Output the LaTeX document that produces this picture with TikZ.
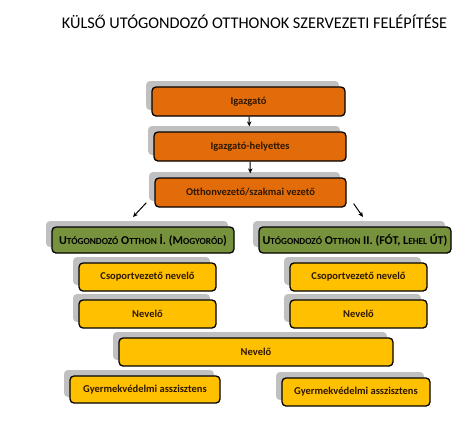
\documentclass[tikz,border=0pt]{standalone}
\usepackage{fontspec}
\setmainfont{Carlito}
\usetikzlibrary{arrows.meta, shadows}
\definecolor{narancs}{HTML}{E36C0A}
\definecolor{olivzold}{HTML}{76923C}
\definecolor{sarga}{HTML}{FFC000}
\definecolor{arnyek}{HTML}{C0C0C0}
\definecolor{sotetbarna}{HTML}{2E1800}
\newcommand\kisbetu[1]{{\fontsize{9.3}{10}\selectfont #1}}
\tikzset{
    doboz/.style={
        rectangle, rounded corners=4pt, draw=black, line width=1.3pt,
        inner sep=0pt, text=sotetbarna, font=\bfseries\fontsize{10.5}{12}\selectfont,
        drop shadow={shadow xshift=-6pt, shadow yshift=6pt,
            fill=arnyek, opacity=1}
    },
    vezeto/.style={doboz, fill=narancs, minimum height=29pt},
    otthon/.style={doboz, fill=olivzold, minimum height=26pt,
        text=black, font=\bfseries\fontsize{12}{14}\selectfont},
    munkatars/.style={doboz, fill=sarga, minimum height=28pt},
    nyil/.style={draw=black, line width=1pt, -{Stealth[length=5pt, width=4.5pt]}}
}
\begin{document}
\begin{tikzpicture}[x=1pt, y=-1pt]
\useasboundingbox (0,0) rectangle (474,437);

% Title
\node[font=\fontsize{16.3}{19}\selectfont] (cim) at (254.5,22) {KÜLSŐ UTÓGONDOZÓ OTTHONOK SZERVEZETI FELÉPÍTÉSE};

% Management
\node[vezeto, minimum width=193pt] (igaz) at (248.5,101.5) {Igazgató};
\node[vezeto, minimum width=192pt] (helyettes) at (250,146.5) {Igazgató-helyettes};
\node[vezeto, minimum width=191pt] (otthonvez) at (250.5,192.5) {Otthonvezető/szakmai vezető};

\draw[nyil, shorten >=5pt] (igaz) -- (helyettes);
\draw[nyil, shorten >=4pt] (helyettes) -- (otthonvez);

% Homes
\node[otthon, minimum width=182pt] (otthonA) at (143,240) {U\kisbetu{TÓGONDOZÓ} O\kisbetu{TTHON} İ. (M\kisbetu{OGYORÓD})};
\node[otthon, minimum width=192pt] (otthonB) at (355,240) {U\kisbetu{TÓGONDOZÓ} O\kisbetu{TTHON} II. (FÓT, L\kisbetu{EHEL} ÚT)};

\coordinate (balnyil) at (133,217);
\coordinate (jobbnyil) at (363,217);
\draw[nyil] ([shift={(-8,-5)}]otthonvez.south west) -- (balnyil);
\draw[nyil] ([shift={(7,-4)}]otthonvez.south east) -- (jobbnyil);

% Staff
\node[munkatars, minimum width=137pt] (csopA) at (147.5,277) {Csoportvezető nevelő};
\node[munkatars, minimum width=137pt] (csopB) at (358.5,277) {Csoportvezető nevelő};
\node[munkatars, minimum width=137pt] (nevA) at (147.5,314) {Nevelő};
\node[munkatars, minimum width=137pt] (nevB) at (358.5,314) {Nevelő};
\node[munkatars, minimum width=274pt] (nevKozos) at (256,352) {Nevelő};
\node[munkatars, minimum width=150pt, minimum height=27pt] (gyermA) at (145,389.5) {Gyermekvédelmi asszisztens};
\node[munkatars, minimum width=148pt] (gyermB) at (356,392) {Gyermekvédelmi asszisztens};

\end{tikzpicture}
\end{document}
